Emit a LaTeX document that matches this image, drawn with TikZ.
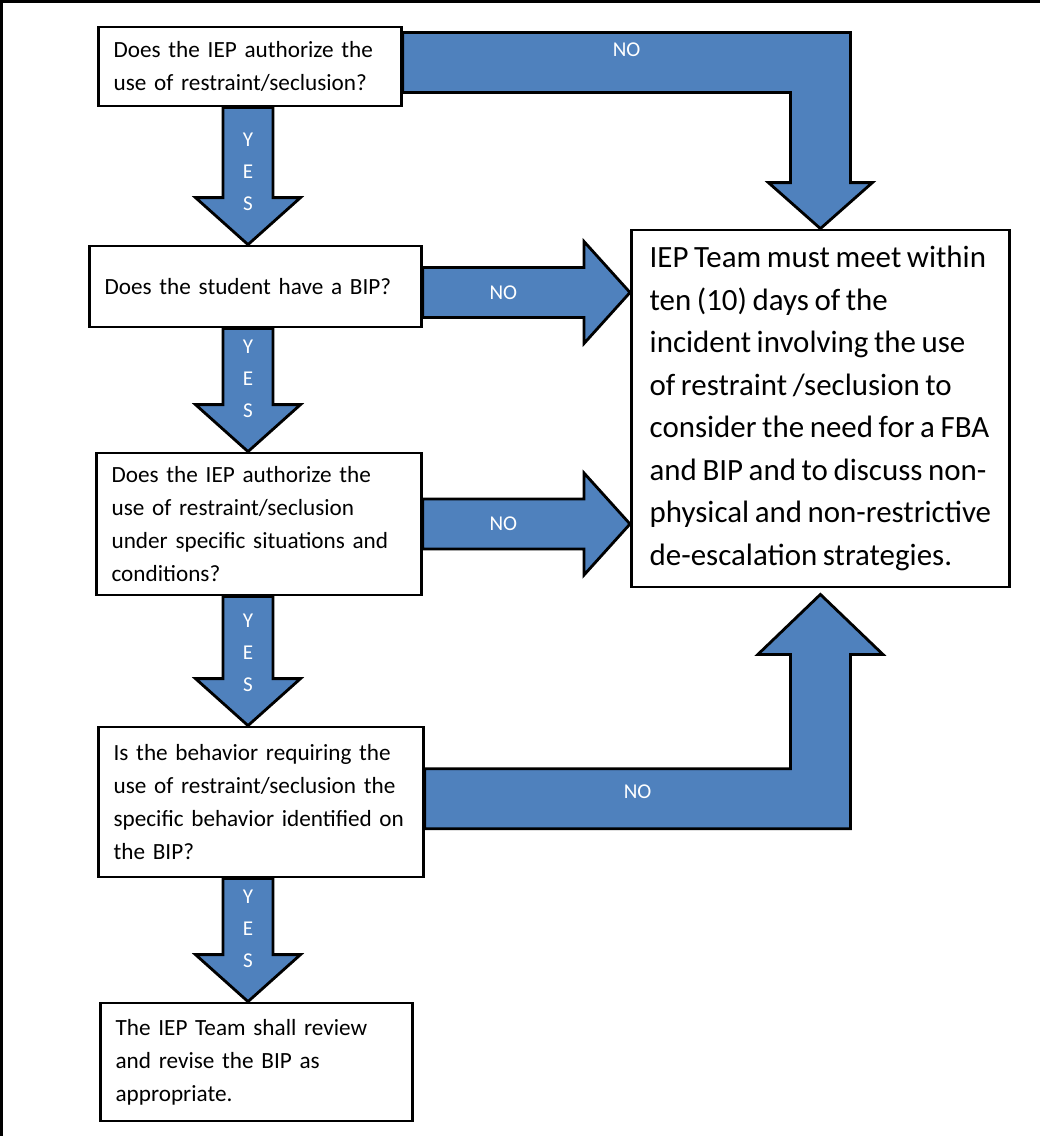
\documentclass[tikz,border=0pt]{standalone}
\usepackage{fontspec}
\setmainfont{Carlito}[WordSpace=0.8]
\usepackage{tikz}
\usetikzlibrary{calc,positioning,backgrounds}

\definecolor{flowblue}{HTML}{4F81BD}

% block arrow going down from one box to the next, along the column (col)
\newcommand{\yesarrow}[2]{%
  \draw[blockarrow] let \p1=(#1.south), \p2=(#2.north), \p3=(col) in
    ({\x3-0.625cm},\y1) -- ({\x3-0.625cm},{\y2+1.175cm}) -- ({\x3-1.3125cm},{\y2+1.175cm})
    -- (\x3,\y2) -- ({\x3+1.3125cm},{\y2+1.175cm}) -- ({\x3+0.625cm},{\y2+1.175cm})
    -- ({\x3+0.625cm},\y1) -- cycle
    node[yeslabel] at (\x3,{\y2+1.825cm}) {Y\\E\\S};}

% block arrow going right from a box to the big box
\newcommand{\noarrow}[3]{%
  \draw[blockarrow] let \p1=($(#1.east)+(0,#3)$), \p2=(#2.west) in
    (\x1,{\y1+0.625cm}) -- ({\x2-1.15cm},{\y1+0.625cm}) -- ({\x2-1.15cm},{\y1+1.275cm})
    -- (\x2,\y1) -- ({\x2-1.15cm},{\y1-1.275cm}) -- ({\x2-1.15cm},{\y1-0.625cm})
    -- (\x1,{\y1-0.625cm}) -- cycle
    node[nolabel] at ({(\x1+\x2-1.15cm)/2},\y1) {NO};}

\begin{document}
\begin{tikzpicture}[
    qbox/.style={draw, line width=2pt, fill=white, anchor=west, align=left,
      inner xsep=0.38cm, inner ysep=0.1cm, font=\fontsize{16.5}{23.5}\selectfont},
    bigbox/.style={draw, line width=2pt, fill=white, anchor=west, align=left,
      inner xsep=0.3cm, inner ysep=0.1cm, font=\fontsize{22}{30.2}\selectfont},
    blockarrow/.style={draw, line width=2pt, fill=flowblue},
    yeslabel/.style={text=white, align=center, inner sep=0pt, font=\fontsize{15}{22.75}\selectfont},
    nolabel/.style={text=white, inner sep=0pt, font=\fontsize{15}{18}\selectfont}]
  \useasboundingbox (0,0) rectangle (26,-28.4);
  \draw[line width=2.1pt] (0.0375,-28.4) -- (0.0375,-0.0375) -- (26,-0.0375);

  \coordinate (col) at (6.2,0);

  % questions
  \node[qbox, text width=6.815cm, minimum height=1.975cm] (q1) at (2.425,-1.6625)
    {Does the IEP authorize the\\use of restraint/seclusion?};
  \node[qbox, text width=7.54cm, minimum height=2.025cm] (q2) at (2.2,-7.1625)
    {Does the student have a BIP?};
  \node[qbox, text width=7.365cm, minimum height=3.55cm] (q3) at (2.375,-13.1)
    {Does the IEP authorize the\\use of restraint/seclusion\\under specific situations and\\conditions?};
  \node[qbox, text width=7.365cm, minimum height=3.75cm] (q4) at (2.425,-20.05)
    {Is the behavior requiring the\\use of restraint/seclusion the\\specific behavior identified on\\the BIP?};
  \node[qbox, text width=7.04cm, minimum height=2.95cm] (res) at (2.475,-26.55)
    {The IEP Team shall review\\and revise the BIP as\\appropriate.};

  % meeting box
  \node[bigbox, minimum width=9.45cm, minimum height=8.925cm] (act) at (15.75,-10.2125)
    {IEP Team must meet within\\ten (10) days of the\\incident involving the use\\of restraint /seclusion to\\consider the need for a FBA\\and BIP and to discuss non-\\physical and non-restrictive\\de-escalation strategies.};

  \begin{scope}[on background layer]
    \yesarrow{q1}{q2}
    \yesarrow{q2}{q3}
    \yesarrow{q3}{q4}
    \yesarrow{q4}{res}
    \noarrow{q2}{act}{-0.15}
    \noarrow{q3}{act}{0}
    % elbow from the first question down onto the big box
    \draw[blockarrow] let \p1=($(q1.east)+(0,0.1)$), \p2=(act.north) in
      (\x1,{\y1+0.75cm}) -- ({\x2+0.75cm},{\y1+0.75cm}) -- ({\x2+0.75cm},{\y2+1.15cm})
      -- ({\x2+1.3cm},{\y2+1.15cm}) -- (\x2,\y2) -- ({\x2-1.3cm},{\y2+1.15cm})
      -- ({\x2-0.75cm},{\y2+1.15cm}) -- ({\x2-0.75cm},{\y1-0.75cm}) -- (\x1,{\y1-0.75cm}) -- cycle
      node[nolabel] at ({(\x1+\x2+0.75cm)/2},{\y1+0.32cm}) {NO};
    % elbow from the fourth question up to the big box
    \draw[blockarrow] let \p1=($(q4.east)+(0,0.08)$), \p2=(act.south) in
      (\x1,{\y1-0.75cm}) -- ({\x2+0.75cm},{\y1-0.75cm}) -- ({\x2+0.75cm},{\y2-1.65cm})
      -- ({\x2+1.5625cm},{\y2-1.65cm}) -- (\x2,{\y2-0.15cm}) -- ({\x2-1.5625cm},{\y2-1.65cm})
      -- ({\x2-0.75cm},{\y2-1.65cm}) -- ({\x2-0.75cm},{\y1+0.75cm}) -- (\x1,{\y1+0.75cm}) -- cycle
      node[nolabel] at ({(\x1+\x2+0.75cm)/2},{\y1+0.18cm}) {NO};
  \end{scope}
\end{tikzpicture}
\end{document}
